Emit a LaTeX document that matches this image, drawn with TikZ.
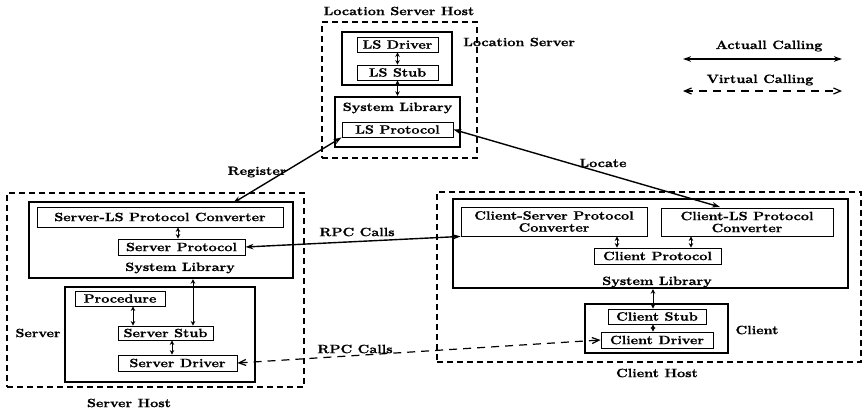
\documentclass[tikz,border=0pt]{standalone}
\usepackage{fontspec}
\setmainfont{Latin Modern Roman}[FakeStretch=1.2, BoldFeatures={FakeBold=1.2}]
\usetikzlibrary{arrows.meta,calc}
\begin{document}
\begin{tikzpicture}[x=1pt,y=-1pt,
  every node/.style={font=\fontsize{12}{13}\selectfont\bfseries, inner sep=0pt},
  box/.style={draw, line width=0.9pt, align=center},
  thickbox/.style={draw, line width=2.4pt},
  hostbox/.style={draw, dash pattern=on 6pt off 4pt, line width=1.1pt},
  lbl/.style={},
  sarr/.style={<->, line width=1pt, >={Stealth[length=4.5pt,width=4.5pt]}},
  larr/.style={<->, line width=1.4pt, >={Stealth[length=8pt,width=5.5pt]}},
  varr/.style={<->, line width=1.2pt, dash pattern=on 8pt off 6pt, >={Straight Barb[length=7pt,width=6pt]}}
]
\useasboundingbox (0,0) rectangle (863,408);

% ---------- Location server host ----------
\node[hostbox, minimum width=155, minimum height=136] (lshost) at (399.5,90) {};
\node[lbl] (lshostl) at (399,11) {Location Server Host};
\node[thickbox, minimum width=110, minimum height=53] (lsserver) at (397,58.5) {};
\node[box, minimum width=81, minimum height=15] (lsdrv) at (397.5,44.5) {LS Driver};
\node[box, minimum width=81, minimum height=15] (lsstub) at (397.5,72.5) {LS Stub};
\node[thickbox, minimum width=125, minimum height=50] (lssys) at (397.5,122) {};
\node[lbl] (lssysl) at (397.5,108) {System Library};
\node[box, minimum width=111, minimum height=15] (lsprot) at (397.5,129.5) {LS Protocol};
\node[lbl, anchor=west] (lsserverl) at (463,42) {Location Server};

% ---------- legend ----------
\node[lbl] (actl) at (769,46) {Actuall Calling};
\coordinate (actA) at (683,59);
\coordinate (actB) at (842,59);
\draw[larr] (actA) -- (actB);
\node[lbl] (virl) at (760,80) {Virtual Calling};
\coordinate (virA) at (683,91);
\coordinate (virB) at (842,91);
\draw[varr] (virA) -- (virB);

% ---------- server host ----------
\node[hostbox, minimum width=297, minimum height=194] (shost) at (155.5,290) {};
\node[lbl] (shostl) at (129,403) {Server Host};
\node[thickbox, minimum width=264, minimum height=76] (ssys) at (161,240) {};
\node[box, minimum width=246, minimum height=20] (slsconv) at (160,217) {Server-LS Protocol Converter};
\node[box, minimum width=127, minimum height=16] (sprot) at (181.5,247) {Server Protocol};
\node[lbl] (ssysl) at (180,268) {System Library};
\node[thickbox, minimum width=190, minimum height=95] (server) at (160,334.5) {};
\node[box, minimum width=90, minimum height=15] (proc) at (120,298.5) {Procedure};
\node[box, minimum width=95, minimum height=14] (sstub) at (165.5,333) {Server Stub};
\node[box, minimum width=119, minimum height=16] (sdrv) at (177.5,363) {Server Driver};
\node[lbl] (serverl) at (38,333) {Server};

% ---------- client host ----------
\node[hostbox, minimum width=424, minimum height=170] (chost) at (649,277) {};
\node[lbl] (chostl) at (657,373) {Client Host};
\node[thickbox, minimum width=395, minimum height=89] (csys) at (650.5,243.5) {};
\node[box, minimum width=186, minimum height=29] (csconv) at (554,221.5) {Client-Server Protocol\\[-1pt]Converter};
\node[box, minimum width=172, minimum height=28] (clsconv) at (747,222) {Client-LS Protocol\\[-1pt]Converter};
\node[box, minimum width=127, minimum height=16] (cprot) at (657.5,256) {Client Protocol};
\node[lbl] (csysl) at (657,282) {System Library};
\node[thickbox, minimum width=143, minimum height=49] (client) at (656.5,328.5) {};
\node[box, minimum width=98, minimum height=15] (cstub) at (657,316.5) {Client Stub};
\node[box, minimum width=112, minimum height=16] (cdrv) at (657,340) {Client Driver};
\node[lbl] (clientl) at (757,330) {Client};

% ---------- internal arrows ----------
\draw[sarr] (lsdrv.south) -- (lsstub.north);
\draw[sarr] (lsstub.south) -- (lssys.north);
\draw[sarr] (slsconv.south -| 178,0) -- (sprot.north -| 178,0);
\draw[sarr] (ssys.south -| 193,0) -- (sstub.north -| 193,0);
\draw[sarr] (proc.south -| 133,0) -- (sstub.north -| 133,0);
\draw[sarr] (sstub.south -| 172,0) -- (sdrv.north -| 172,0);
\draw[sarr] (csconv.south -| 617,0) -- (cprot.north -| 617,0);
\draw[sarr] (clsconv.south -| 691,0) -- (cprot.north -| 691,0);
\draw[sarr] (csys.south -| 653,0) -- (cstub.north -| 653,0);
\draw[sarr] (cstub.south -| 653,0) -- (cdrv.north -| 653,0);

% ---------- long arrows ----------
\coordinate (regS) at (233,203);
\draw[larr] (regS) -- (lsprot.south west);
\node[lbl] (regl) at (257,172) {Register};
\coordinate (locC) at (720,207);
\draw[larr] (lsprot.east) -- (locC);
\node[lbl] (locl) at (603,163) {Locate};
\draw[larr] (sprot.east) -- (csconv.south west);
\node[lbl] (rpc1) at (357,232) {RPC Calls};
\draw[varr] (sdrv.east) -- (cdrv.west);
\node[lbl] (rpc2) at (355,349) {RPC Calls};
\end{tikzpicture}
\end{document}
